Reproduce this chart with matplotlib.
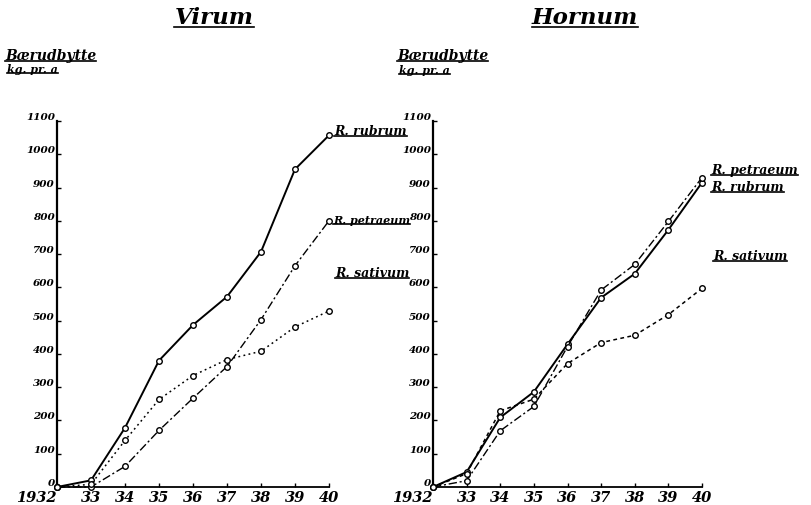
import matplotlib
matplotlib.use("Agg")
from matplotlib import pyplot as plt
from matplotlib.lines import Line2D

# years on the x axis
years = [1932, 1933, 1934, 1935, 1936, 1937, 1938, 1939, 1940]
year_labels = ["1932", "33", "34", "35", "36", "37", "38", "39", "40"]
y_ticks = list(range(0, 1101, 100))

# Virum, kg pr. a
virum_rubrum = [0, 20, 178, 380, 487, 572, 707, 955, 1057]
virum_petraeum = [0, 0, 62, 170, 267, 362, 503, 665, 800]
virum_sativum = [0, 8, 140, 263, 335, 383, 408, 481, 529]

# Hornum, kg pr. a
hornum_rubrum = [0, 45, 209, 286, 429, 569, 641, 773, 915]
hornum_petraeum = [0, 19, 169, 242, 422, 592, 669, 798, 930]
hornum_sativum = [0, 40, 229, 264, 371, 434, 456, 518, 597]

FONT = dict(family="DejaVu Serif", style="italic", weight="bold", color="black")

fig = plt.figure(figsize=(8.11, 5.06), dpi=100)
texts_to_underline = []


def draw_panel(ax, rubrum, petraeum, sativum, sativum_ls):
    ax.plot(years, rubrum, color="black", lw=1.4, ls="-", marker="o", ms=4,
            mfc="white", mec="black", mew=1, clip_on=False, zorder=3)
    ax.plot(years, petraeum, color="black", lw=1.0, ls=(0, (6, 2, 1.5, 2)),
            marker="o", ms=4, mfc="white", mec="black", mew=1, clip_on=False, zorder=3)
    ax.plot(years, sativum, color="black", lw=1.1, ls=sativum_ls,
            marker="o", ms=4, mfc="white", mec="black", mew=1, clip_on=False, zorder=3)
    ax.set_xlim(1932, 1940)
    ax.set_ylim(0, 1100)
    for s in ["top", "right"]:
        ax.spines[s].set_visible(False)
    ax.spines["left"].set_linewidth(1.6)
    ax.spines["bottom"].set_linewidth(1.3)
    ax.set_xticks(years)
    ax.set_xticklabels(year_labels, fontsize=10.5, **FONT)
    ax.set_yticks(y_ticks)
    ax.set_yticklabels([str(v) for v in y_ticks], fontsize=7.5, **FONT)
    ax.tick_params(axis="both", direction="in", length=3, width=1)
    ax.tick_params(axis="x", pad=2)
    ax.tick_params(axis="y", pad=1.5)
    for lab in ax.get_yticklabels():
        lab.set_va("bottom")
    ax.get_xticklabels()[0].set_ha("right")
    ax.get_xticklabels()[0].set_x(1932.05)
    ax.patch.set_visible(False)


ax1 = fig.add_axes([57 / 811, 18 / 506, 272 / 811, 366 / 506])
draw_panel(ax1, virum_rubrum, virum_petraeum, virum_sativum, (0, (1.2, 2.2)))
ax2 = fig.add_axes([433 / 811, 18 / 506, 269 / 811, 366 / 506])
draw_panel(ax2, hornum_rubrum, hornum_petraeum, hornum_sativum, (0, (2.5, 2.2)))


def label(x, y, s, size, ha="left"):
    t = fig.text(x / 811, 1 - y / 506, s, fontsize=size, ha=ha, va="baseline", **FONT)
    texts_to_underline.append(t)
    return t


# titles
label(214, 24, "Virum", 16.5, ha="center")
label(585, 24, "Hornum", 16.5, ha="center")
# y axis captions
label(5, 60, "Bærudbytte", 10)
label(7, 73, "kg. pr. a", 8)
label(397, 60, "Bærudbytte", 10)
label(399, 74, "kg. pr. a", 8)
# series labels
label(334, 135, "R. rubrum", 9)
label(333, 224, "R. petraeum", 8)
label(335, 277, "R. sativum", 9)
label(711, 174, "R. petraeum", 9)
label(711, 191, "R. rubrum", 9)
label(713, 260, "R. sativum", 9)

fig.canvas.draw()
renderer = fig.canvas.get_renderer()
for t in texts_to_underline:
    bb = t.get_window_extent(renderer)
    fy = (bb.y0 + 1.5) / fig.bbox.height
    fig.add_artist(Line2D([bb.x0 / fig.bbox.width, bb.x1 / fig.bbox.width], [fy, fy],
                          transform=fig.transFigure, color="black", lw=1.2))

fig.savefig("out.png", dpi=100)
